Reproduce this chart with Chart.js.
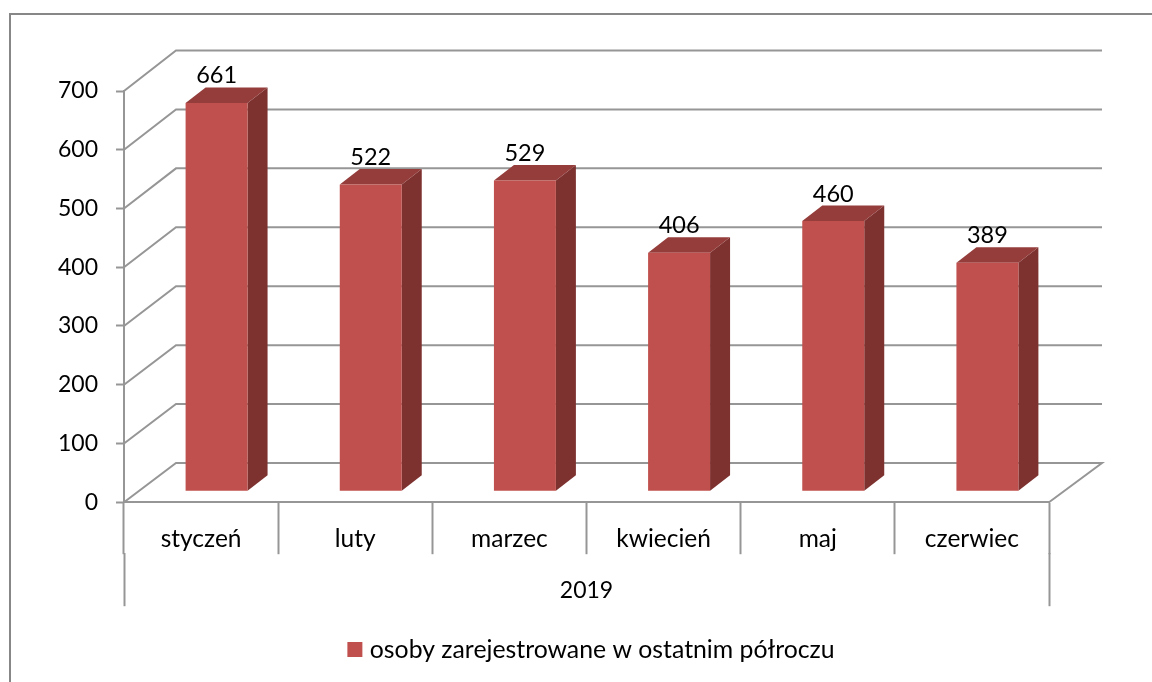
<!DOCTYPE html>
<html><head><meta charset="utf-8">
<style>html,body{margin:0;padding:0;background:#fff}canvas{display:block}</style>
<script src="https://cdn.jsdelivr.net/npm/chart.js@4"></script>
</head><body><canvas id="c" width="1152" height="682"></canvas>
<script>
const categories = ['styczeń','luty','marzec','kwiecień','maj','czerwiec'];
const groupLabels = ['2019'];
const seriesName = 'osoby zarejestrowane w ostatnim półroczu';
const values = [661,522,529,406,460,389];
const FONT = 'Lato, Carlito, sans-serif';
const GRAY = '#969696', RED = '#c0504d', SIDE = '#7d3230', TOP = '#943d3b';
const BAR_DX = 15.5, BAR_DY = -11, DEPTH_X = 20, DEPTH_Y = 15.5;
const WALL_DX = 52, BACK_TOP = 50.5, BACK_BOTTOM = 463, WALL_RIGHT = 1102;

const walls = {
  id:'walls',
  afterLayout(chart){ chart.legend.left += 7; chart.legend.right += 7; },
  beforeDraw(chart){
    const c = chart.ctx;
    c.save();
    c.strokeStyle = '#878787'; c.lineWidth = 2;
    c.beginPath(); c.moveTo(10,682); c.lineTo(10,14); c.lineTo(1152,14); c.stroke();
    const y = chart.scales.y, a = chart.chartArea;
    c.strokeStyle = GRAY; c.lineWidth = 2; c.lineJoin='miter';
    y.ticks.forEach(t=>{
      const py = y.getPixelForValue(t.value);
      const by = BACK_BOTTOM - (BACK_BOTTOM-BACK_TOP)*(py-a.bottom)/(a.top-a.bottom);
      c.beginPath(); c.moveTo(a.left,py); c.lineTo(a.left+WALL_DX,by); c.lineTo(WALL_RIGHT,by);
      if(t.value===0) c.lineTo(a.right,a.bottom);
      c.stroke();
    });
    c.restore();
  },
  beforeDatasetsDraw(chart){
    const c = chart.ctx;
    chart.getDatasetMeta(0).data.forEach(b=>{
      const l=b.x-b.width/2+BAR_DX, r=b.x+b.width/2+BAR_DX, t=b.y+BAR_DY, bt=b.base+BAR_DY;
      c.fillStyle=SIDE; c.beginPath(); c.moveTo(r,t); c.lineTo(r+DEPTH_X,t-DEPTH_Y); c.lineTo(r+DEPTH_X,bt-DEPTH_Y); c.lineTo(r,bt); c.closePath(); c.fill();
      c.fillStyle=TOP; c.beginPath(); c.moveTo(l,t); c.lineTo(l+DEPTH_X,t-DEPTH_Y); c.lineTo(r+DEPTH_X,t-DEPTH_Y); c.lineTo(r,t); c.closePath(); c.fill();
    });
    c.save(); c.translate(BAR_DX,BAR_DY);
  },
  afterDatasetsDraw(chart){
    const c = chart.ctx; c.restore();
    c.save(); c.fillStyle='#000'; c.font='23.5px '+FONT; c.textAlign='center'; c.textBaseline='middle';
    chart.getDatasetMeta(0).data.forEach((b,i)=>{
      c.fillText(String(values[i]), b.x+BAR_DX, b.y+BAR_DY-27);
    });
    c.restore();
  }
};

new Chart(document.getElementById('c'),{
  type:'bar',
  data:{labels:categories,datasets:[{label:seriesName,data:values,backgroundColor:RED,borderWidth:0,categoryPercentage:1,barPercentage:0.402,clip:false}]},
  plugins:[walls],
  options:{
    responsive:false,animation:false,
    layout:{padding:{left:0,right:103,top:91,bottom:10}},
    plugins:{
      tooltip:{enabled:false},
      legend:{position:'bottom',fullSize:false,labels:{
        font:{family:FONT,size:24.8},color:'#000',boxWidth:5,boxHeight:5,padding:9,
        generateLabels(ch){return [{text:seriesName,fillStyle:RED,strokeStyle:RED,lineWidth:10,datasetIndex:0,fontColor:'#000'}];}
      },onClick:null}
    },
    scales:{
      y:{min:0,max:700,
        ticks:{stepSize:100,font:{family:FONT,size:23},color:'#000',padding:18},
        grid:{drawOnChartArea:false,tickLength:8,tickColor:GRAY,tickWidth:2},
        border:{display:true,color:GRAY,width:2},
        afterFit(s){s.width=124;}
      },
      x:{weight:0,offset:true,
        ticks:{font:{family:FONT,size:24.5},color:'#000',padding:-30,maxRotation:0,autoSkip:false},
        grid:{drawOnChartArea:false,tickLength:52,tickColor:GRAY,tickWidth:2,offset:true},
        border:{display:true,color:GRAY,width:2},
        afterFit(s){s.height=51;}
      },
      x2:{type:'category',axis:'x',position:'bottom',weight:1,labels:groupLabels,offset:true,
        ticks:{font:{family:FONT,size:23},color:'#000',padding:-29,maxRotation:0},
        grid:{drawOnChartArea:false,tickLength:53,tickColor:GRAY,tickWidth:2,offset:true},
        border:{display:false},
        afterFit(s){s.height=75;}
      }
    }
  }
});
</script></body></html>
